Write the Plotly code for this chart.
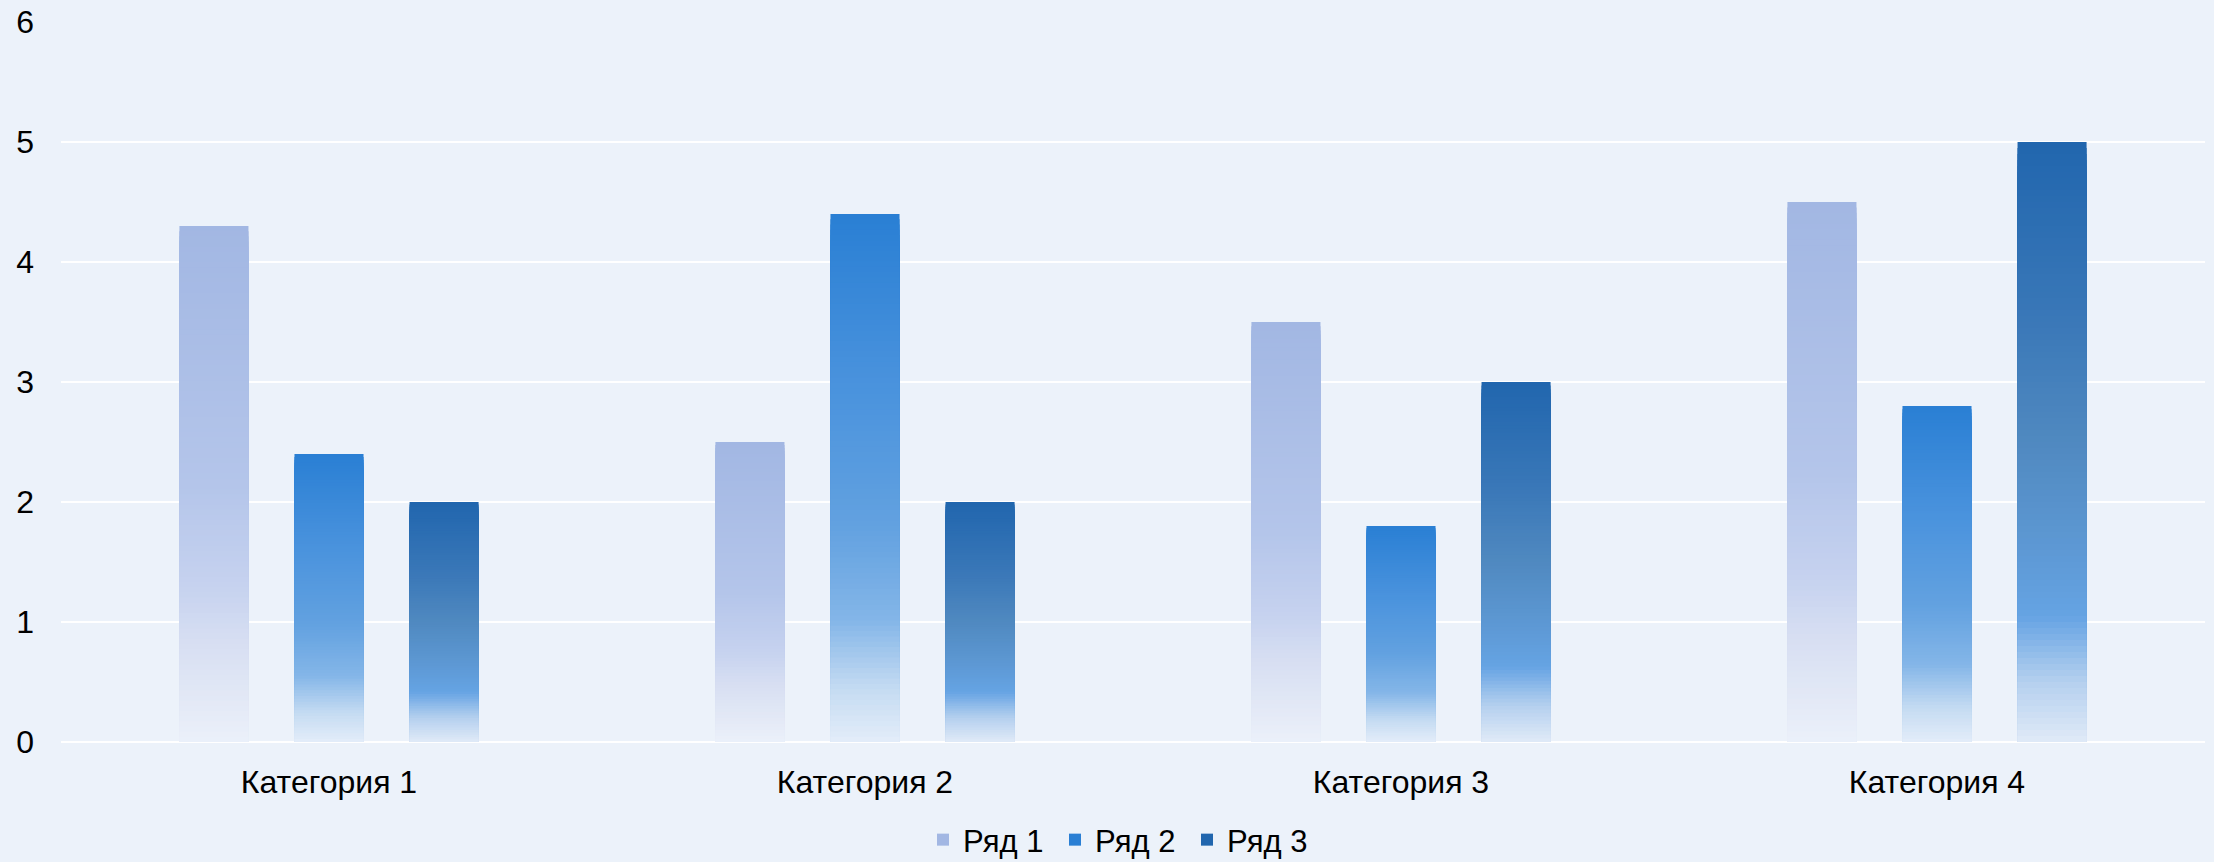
import plotly.graph_objects as go

categories = ["Категория 1", "Категория 2", "Категория 3", "Категория 4"]
series_names = ["Ряд 1", "Ряд 2", "Ряд 3"]
values_1 = [4.3, 2.5, 3.5, 4.5]
values_2 = [2.4, 4.4, 1.8, 2.8]
values_3 = [2.0, 2.0, 3.0, 5.0]
y_ticks = [0, 1, 2, 3, 4, 5, 6]

# gradient stops (fraction of bar height from bottom, colour)
grad_1 = [(0.0, "#EBF0FA"), (0.1, "#E1E7F5"), (0.2, "#D6DEF2"), (0.3, "#C6D2EF"),
          (0.5, "#B4C5EA"), (1.0, "#A2B7E3")]
grad_2 = [(0.0, "#E3EDF9"), (0.1, "#C5DBF2"), (0.23, "#84B6E8"), (0.41, "#62A1E0"),
          (0.67, "#4A93DD"), (1.0, "#2A7FD4")]
grad_3 = [(0.0, "#E0EAF7"), (0.1, "#B5D0EF"), (0.21, "#65A3E3"), (0.34, "#5C97D2"),
          (0.5, "#5089C0"), (0.7, "#3A78B8"), (1.0, "#2166AE")]

BG = "#ECF2FA"
FONT = "Liberation Sans, Arial, sans-serif"
N = 100


def hex2rgb(h):
    h = h.lstrip("#")
    return tuple(int(h[i:i + 2], 16) for i in (0, 2, 4))


def color_at(stops, t):
    for (t0, c0), (t1, c1) in zip(stops[:-1], stops[1:]):
        if t0 <= t <= t1:
            a = (t - t0) / (t1 - t0) if t1 > t0 else 0
            r0, g0, b0 = hex2rgb(c0)
            r1, g1, b1 = hex2rgb(c1)
            return "rgb(%d,%d,%d)" % (round(r0 + (r1 - r0) * a),
                                       round(g0 + (g1 - g0) * a),
                                       round(b0 + (b1 - b0) * a))
    return stops[-1][1]


fig = go.Figure()
all_series = [(series_names[0], values_1, grad_1),
              (series_names[1], values_2, grad_2),
              (series_names[2], values_3, grad_3)]

for si, (name, vals, grad) in enumerate(all_series):
    for k in range(N):
        frac = (N - k) / N
        t = (N - k - 0.5) / N
        fig.add_trace(go.Bar(
            x=categories,
            y=[v * frac for v in vals],
            name=name,
            legendgroup=name,
            showlegend=(k == 0),
            offsetgroup=str(si),
            marker=dict(color=color_at(grad, t) if k > 0 else grad[-1][1],
                        line=dict(width=0)),
            hoverinfo="skip" if k > 0 else None,
        ))

fig.update_layout(
    width=2214, height=862,
    paper_bgcolor=BG, plot_bgcolor=BG,
    margin=dict(l=61, r=9, t=22, b=120, autoexpand=False),
    barmode="group", bargap=0.356, bargroupgap=0.4,
    font=dict(family=FONT, size=32, color="#000000"),
    showlegend=True,
    legend=dict(orientation="h", x=(1121 - 61) / 2144, xanchor="center",
                yref="container", y=(862 - 840) / 862, yanchor="middle",
                entrywidth=87, entrywidthmode="pixels",
                font=dict(size=31), bgcolor="rgba(0,0,0,0)", itemclick=False),
    xaxis=dict(showgrid=False, showline=False, ticks="", ticklabelstandoff=18,
               tickfont=dict(size=32)),
    yaxis=dict(range=[0, 6], tickvals=y_ticks, showgrid=True, gridcolor="#FFFFFF",
               gridwidth=2, zeroline=True, zerolinecolor="#FFFFFF", zerolinewidth=2,
               showline=False, ticks="", ticklabelstandoff=26, tickfont=dict(size=32)),
)

fig.write_html("out.html",
               config={"displayModeBar": False},
               post_script="document.body.style.margin='0';"
                           "document.body.style.overflow='hidden';")
